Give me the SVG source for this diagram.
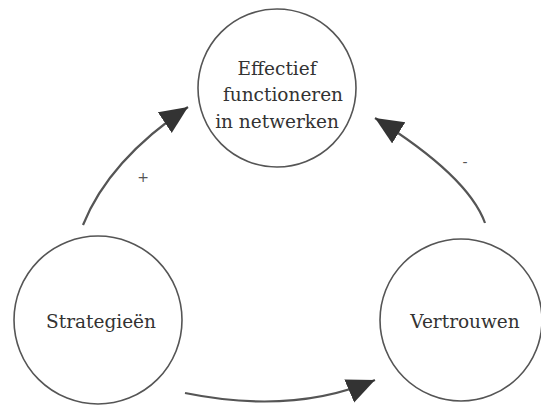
<svg xmlns="http://www.w3.org/2000/svg" width="541" height="405" viewBox="0 0 541 405">
<style>
.node circle{fill:#fff;stroke:#555;stroke-width:1.6}
.node text{font-family:"DejaVu Serif","Liberation Serif",serif;font-size:18.5px;fill:#333;text-anchor:middle}
.conn path{fill:none;stroke:#555;stroke-width:2.2}
.lbl{font-family:"DejaVu Sans","Liberation Sans",sans-serif;font-size:14px;fill:#555;text-anchor:middle}
</style>
<defs>
<marker id="ah" markerUnits="userSpaceOnUse" markerWidth="30" markerHeight="26" refX="28" refY="12.5" orient="auto" viewBox="0 0 30 26">
<path d="M0,0 L28,12.5 L0,25 Z" fill="#333"/>
</marker>
</defs>
<rect width="541" height="405" fill="#fff"/>
<g id="n-effectief" class="node">
<circle cx="277" cy="88" r="79"/>
<text x="277" y="75">Effectief</text>
<text x="283" y="101">functioneren</text>
<text x="277" y="128">in netwerken</text>
</g>
<g id="n-strategieen" class="node">
<circle cx="98" cy="320" r="84"/>
<text x="101" y="328">Strategieën</text>
</g>
<g id="n-vertrouwen" class="node">
<circle cx="461" cy="320" r="81"/>
<text x="465" y="328">Vertrouwen</text>
</g>
<g id="connectors" class="conn">
<path d="M83,225 Q109,160 188,107" marker-end="url(#ah)"/>
<path d="M485,223 Q468,176 375,118" marker-end="url(#ah)"/>
<path d="M185,393 Q293,415 375,380" marker-end="url(#ah)"/>
<text class="lbl" x="143" y="182">+</text>
<text class="lbl" x="465" y="167">-</text>
</g>
</svg>
